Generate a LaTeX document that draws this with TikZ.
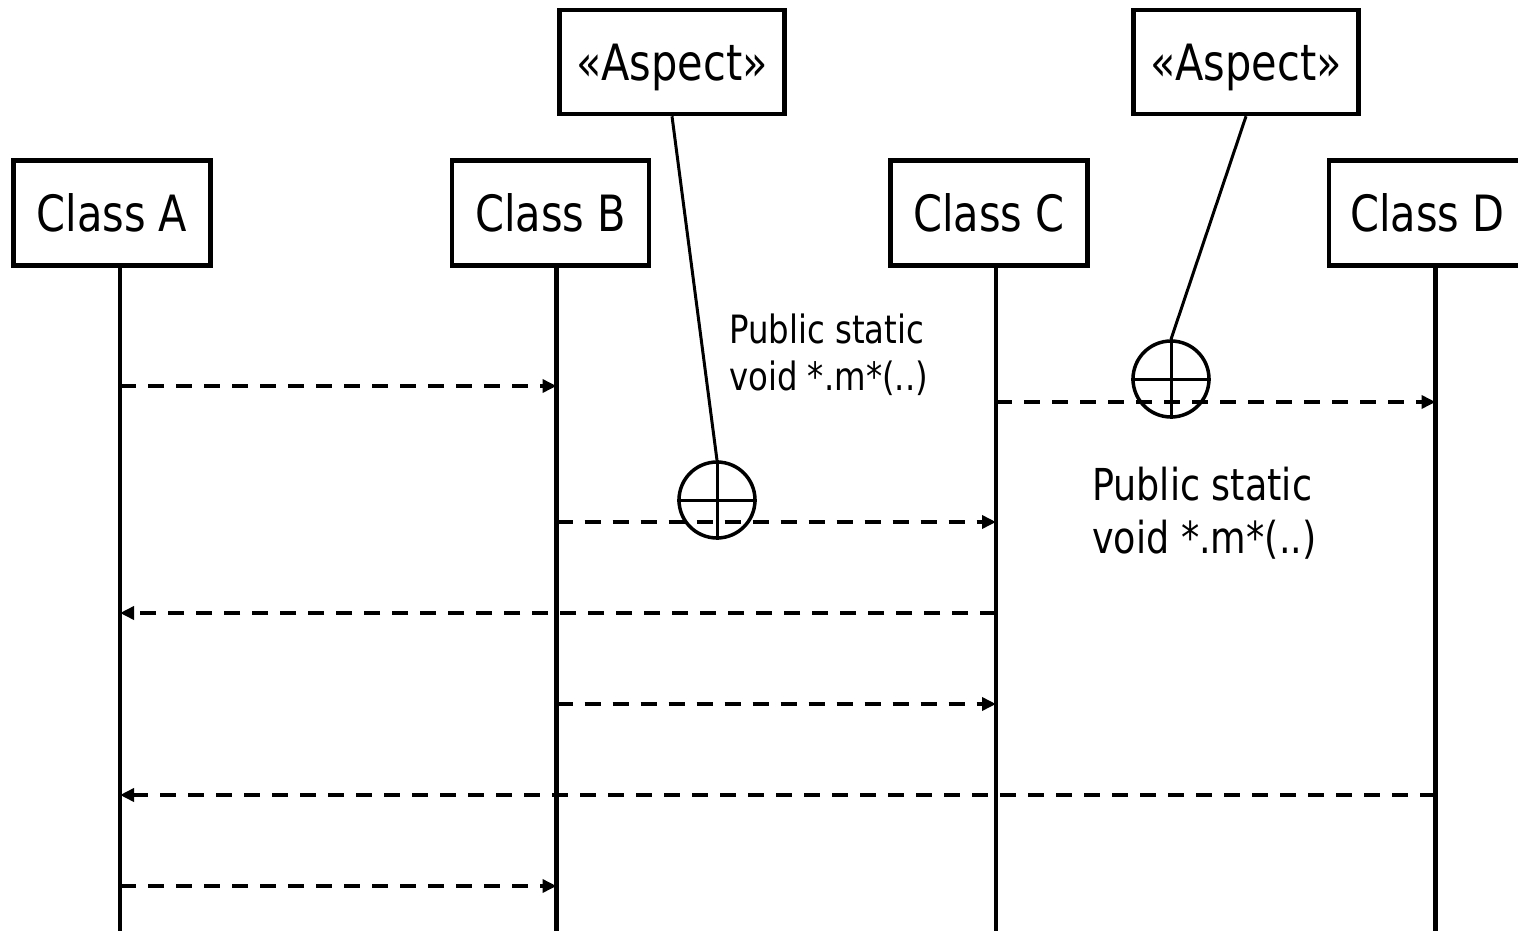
\documentclass[tikz,border=0pt]{standalone}
\usepackage{fontspec}
\setmainfont{DejaVu Sans}[FakeStretch=0.83]
\usetikzlibrary{arrows.meta, positioning}
\tikzset{
  classbox/.style  = {rectangle, draw=black, line width=4.5pt, fill=white,
                      minimum width=197pt, minimum height=105pt, inner sep=0pt,
                      font=\fontsize{50}{60}\selectfont},
  aspectbox/.style = {classbox, minimum width=225pt, minimum height=104pt,
                      text depth=0pt},
  lifeline/.style  = {line width=4.5pt},
  msg/.style       = {line width=3.5pt, dash pattern=on 16pt off 12pt,
                      -{Triangle[length=14pt, width=13pt]}},
  joinpoint/.style = {circle, draw=black, line width=3.5pt, minimum size=76pt,
                      inner sep=0pt},
  tether/.style    = {line width=3pt},
  cutlabel/.style  = {anchor=north west, align=left, inner sep=0pt},
}

\begin{document}
\begin{tikzpicture}[x=1pt, y=-1pt, node distance=237pt]

    \useasboundingbox (0,0) rectangle (1518,931);
    \clip (0,0) rectangle (1518,931);

    % ── Classes and their lifelines ─────────────────────────────
    \node[classbox] (clsA) at (112,213) {Class A};
    \node[classbox, right=of clsA] (clsB) {Class B};
    \node[classbox, right=of clsB] (clsC) {Class C};
    \node[classbox, right=of clsC] (clsD) {Class D};

    \coordinate (bottom) at (0,931);
    \coordinate (lA) at ([xshift=8pt]clsA.south);
    \coordinate (lB) at ([xshift=6pt]clsB.south);
    \coordinate (lC) at ([xshift=7pt]clsC.south);
    \coordinate (lD) at ([xshift=8pt]clsD.south);

    \draw[lifeline] (lA) -- (lA |- bottom);
    \draw[lifeline] (lB) -- (lB |- bottom);
    \draw[lifeline] (lC) -- (lC |- bottom);
    \draw[lifeline] (lD) -- (lD |- bottom);

    % ── Message rows ────────────────────────────────────────────
    \coordinate (t1) at (0,386);
    \coordinate (t2) at (0,402);
    \coordinate (t3) at (0,522);
    \coordinate (t4) at (0,613);
    \coordinate (t5) at (0,704);
    \coordinate (t6) at (0,795);
    \coordinate (t7) at (0,886);

    \draw[msg] (lA |- t1) -- (lB |- t1);
    \draw[msg] (lC |- t2) -- (lD |- t2);
    \draw[msg] (lB |- t3) -- (lC |- t3);
    \draw[msg] (lC |- t4) -- (lA |- t4);
    \draw[msg] (lB |- t5) -- (lC |- t5);
    \draw[msg] (lD |- t6) -- (lA |- t6);
    \draw[msg] (lA |- t7) -- (lB |- t7);

    % ── Aspects woven into the calls ────────────────────────────
    \node[aspectbox] (aspBC) at (672,62) {«Aspect»};
    \node[aspectbox] (aspCD) at (1246,62) {«Aspect»};

    \node[joinpoint] (jpBC) at (717,500) {};
    \node[joinpoint] (jpCD) at (1171,379) {};
    \draw[tether] (jpBC.north) -- (jpBC.south);
    \draw[tether] (jpBC.west) -- (jpBC.east);
    \draw[tether] (jpCD.north) -- (jpCD.south);
    \draw[tether] (jpCD.west) -- (jpCD.east);

    \draw[tether] (aspBC.south) -- (jpBC.north);
    \draw[tether] (aspCD.south) -- (jpCD.north);

    \node[cutlabel, font=\fontsize{39}{47}\selectfont] (cutBC) at (729,314)
      {Public static\\void *.m*(..)};
    \node[cutlabel, font=\fontsize{44}{53}\selectfont] (cutCD) at (1092,467)
      {Public static\\void *.m*(..)};

  \end{tikzpicture}
\end{document}
